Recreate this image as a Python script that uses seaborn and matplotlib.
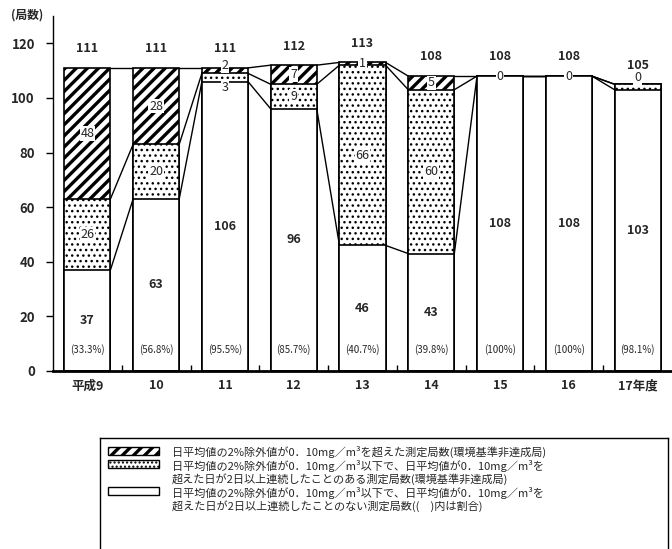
import pandas as pd
import seaborn as sns
import matplotlib.pyplot as plt
from matplotlib.patches import Rectangle

# 年度ごとの測定局数
years = ['平成9', '10', '11', '12', '13', '14', '15', '16', '17年度']
ok_counts = [37, 63, 106, 96, 46, 43, 108, 108, 103]      # 連続したことのない局
streak_counts = [26, 20, 3, 9, 66, 60, 0, 0, 2]           # 2日以上連続したことのある局
over_counts = [48, 28, 2, 7, 1, 5, 0, 0, 0]               # 2%除外値が超過した局
mid_labels = ['26', '20', '3', '9', '66', '60', '', '', '']

legend_texts = [
    '日平均値の2%除外値が0．10mg／m³を超えた測定局数(環境基準非達成局)',
    '日平均値の2%除外値が0．10mg／m³以下で、日平均値が0．10mg／m³を\n'
    '超えた日が2日以上連続したことのある測定局数(環境基準非達成局)',
    '日平均値の2%除外値が0．10mg／m³以下で、日平均値が0．10mg／m³を\n'
    '超えた日が2日以上連続したことのない測定局数((　)内は割合)',
]

df = pd.DataFrame({'year': years, 'ok': ok_counts,
                   'streak': streak_counts, 'over': over_counts})
df['lvl1'] = df['ok']
df['lvl2'] = df['ok'] + df['streak']
df['total'] = df['lvl2'] + df['over']
df['pct'] = df['ok'] / df['total'] * 100

sns.set_style('white')
plt.rcParams['font.family'] = ['Noto Sans CJK JP', 'DejaVu Sans']
plt.rcParams['hatch.color'] = 'black'

W = 0.67
fig = plt.figure(figsize=(6.72, 5.49), dpi=100)
ax = fig.add_axes([53 / 672, 1 - 371 / 549, 1 - 53 / 672, (371 - 16) / 549])

# stacked bars drawn as overlapping cumulative layers
plt.rcParams['hatch.linewidth'] = 2.4
sns.barplot(data=df, x='year', y='total', color='white', saturation=1,
            edgecolor='black', linewidth=1.2, hatch='///', width=W,
            errorbar=None, ax=ax)
plt.rcParams['hatch.linewidth'] = 1.0
sns.barplot(data=df, x='year', y='lvl2', color='white', saturation=1,
            edgecolor='black', linewidth=1.2, hatch='...', width=W,
            errorbar=None, ax=ax)
sns.barplot(data=df, x='year', y='lvl1', color='white', saturation=1,
            edgecolor='black', linewidth=1.2, width=W,
            errorbar=None, ax=ax)

# connector lines between neighbouring bars
for i in range(len(df) - 1):
    for col in ['lvl1', 'lvl2', 'total']:
        ax.plot([i + W / 2, i + 1 - W / 2], [df[col][i], df[col][i + 1]],
                color='black', lw=1.0, zorder=3)

box = dict(facecolor='white', edgecolor='none', pad=0.6)
for i, r in df.iterrows():
    ax.text(i, r['total'] + 7, f"{r['total']}", ha='center', va='center',
            fontsize=9, fontweight='bold')
    ax.text(i, r['lvl1'] / 2, f"{r['ok']}", ha='center', va='center',
            fontsize=9, fontweight='bold')
    pct = '100' if r['pct'] >= 99.95 else f"{r['pct']:.1f}"
    ax.text(i, 8, f"({pct}%)", ha='center', va='center', fontsize=7)
    # middle segment label
    if mid_labels[i]:
        if r['streak'] >= 5:
            ax.text(i, r['lvl1'] + r['streak'] / 2, mid_labels[i], ha='center',
                    va='center', fontsize=9, bbox=box, zorder=4)
        else:
            ax.text(i, r['lvl1'] - 2.3, mid_labels[i], ha='center',
                    va='center', fontsize=9, bbox=box, zorder=4)
    # top segment label
    if r['over'] == 0:
        y = r['total'] if r['streak'] == 0 else r['total'] + 2.6
        ax.text(i, y, '0', ha='center', va='center', fontsize=9, bbox=box, zorder=4)
    elif r['streak'] < 5:
        ax.text(i, r['total'] + 0.8, f"{r['over']}", ha='center', va='center',
                fontsize=9, bbox=box, zorder=4)
    else:
        ax.text(i, r['lvl2'] + r['over'] / 2, f"{r['over']}", ha='center',
                va='center', fontsize=9, bbox=box, zorder=4)

ax.set_xlim(-0.5, len(df) - 0.5)
ax.set_ylim(0, 130)
ax.set_yticks(range(0, 121, 20))
ax.set_xlabel('')
ax.set_ylabel('')
ax.set_xticks(range(len(df)))
ax.set_xticklabels(years, fontsize=9, fontweight='bold')
ax.set_xticks([i + 0.5 for i in range(len(df) - 1)], minor=True)
ax.tick_params(axis='x', which='major', length=0, pad=6)
ax.tick_params(axis='x', which='minor', direction='in', length=4, width=1,
               bottom=True, color='black')
ax.tick_params(axis='y', which='major', direction='out', length=5, width=1,
               left=True, color='black', labelsize=9.5, pad=8)
for lab in ax.get_yticklabels():
    lab.set_fontweight('bold')
for s in ['top', 'right']:
    ax.spines[s].set_visible(False)
ax.spines['left'].set_color('black')
ax.spines['left'].set_linewidth(1.0)
ax.spines['bottom'].set_color('black')
ax.spines['bottom'].set_linewidth(2.0)

fig.text(27 / 672, 1 - 15 / 549, '(局数)', ha='center', va='center',
         fontsize=8.5, fontweight='bold')

# legend box at the bottom
lax = fig.add_axes([100 / 672, -11 / 549, 568 / 672, 122 / 549])
lax.set_xlim(100, 668)
lax.set_ylim(560, 438)
lax.set_xticks([])
lax.set_yticks([])
for s in lax.spines.values():
    s.set_color('black')
    s.set_linewidth(1.0)
    s.set_visible(True)

plt.rcParams['hatch.linewidth'] = 2.4
lax.add_patch(Rectangle((108, 447), 51, 8, facecolor='white',
                        edgecolor='black', hatch='///', lw=1))
plt.rcParams['hatch.linewidth'] = 1.0
lax.add_patch(Rectangle((108, 460), 51, 8, facecolor='white',
                        edgecolor='black', hatch='....', lw=1))
lax.add_patch(Rectangle((108, 487), 51, 8, facecolor='white',
                        edgecolor='black', lw=1))
for t, y in zip(legend_texts, [452, 460, 487]):
    lax.text(172, y, t, ha='left', va='top' if '\n' in t else 'center',
             fontsize=8, linespacing=1.15)

fig.savefig('out.png', dpi=100)
